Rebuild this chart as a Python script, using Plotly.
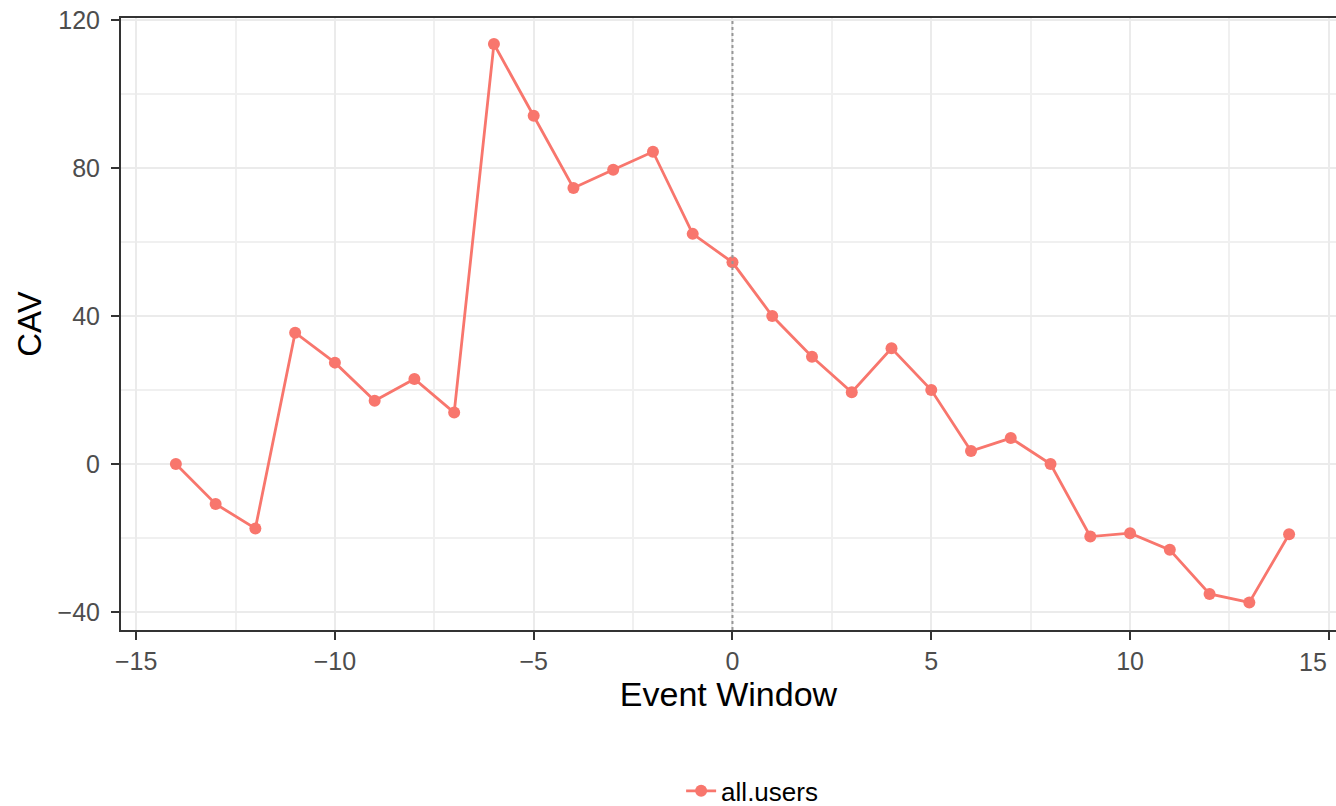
import plotly.graph_objects as go

# ---- data ----
event_window = [-14, -13, -12, -11, -10, -9, -8, -7, -6, -5, -4, -3, -2, -1,
                0, 1, 2, 3, 4, 5, 6, 7, 8, 9, 10, 11, 12, 13, 14]
cav_all_users = [0.0, -10.8, -17.4, 35.5, 27.4, 17.1, 23.0, 13.9, 113.5, 94.1,
                 74.6, 79.5, 84.4, 62.2, 54.5, 40.0, 29.0, 19.4, 31.3, 20.0,
                 3.5, 7.0, 0.0, -19.6, -18.7, -23.2, -35.1, -37.4, -19.0]
series_name = "all.users"
event_day = 0
x_tick_vals = [-15, -10, -5, 0, 5, 10, 15]
x_tick_text = ["\u221215", "\u221210", "\u22125", "0", "5", "10", "15"]
y_tick_vals = [-40, 0, 40, 80, 120]
y_tick_text = ["\u221240", "0", "40", "80", "120"]

LINE_COLOR = "#F8766D"
GRID = "#EBEBEB"
BORDER = "#333333"
TICK_TXT = "#4D4D4D"
FONT = "Liberation Sans, Arial, sans-serif"

fig = go.Figure()
fig.add_trace(go.Scatter(
    x=event_window, y=cav_all_users, mode="lines+markers", name=series_name,
    line=dict(color=LINE_COLOR, width=2.8),
    marker=dict(color=LINE_COLOR, size=12),
    showlegend=True,
))

fig.add_vline(x=event_day, line=dict(color="rgb(150,150,150)", width=2, dash="dot"),
              layer="above")

# the last x tick label sits at the right edge: draw it right-aligned to its tick
shown_tick_text = x_tick_text[:-1] + [""]
fig.add_annotation(x=x_tick_vals[-1], xref="x", y=0, yref="paper",
                   text=x_tick_text[-1], showarrow=False, xanchor="right", yanchor="top",
                   yshift=-16, font=dict(size=25, color=TICK_TXT, family=FONT))

fig.update_layout(
    width=1336, height=806,
    margin=dict(l=121, r=0, t=18, b=176, autoexpand=False),
    plot_bgcolor="white", paper_bgcolor="white",
    font=dict(family=FONT, color="black"),
    showlegend=True,
    legend=dict(orientation="h", x=0.461, xanchor="left", y=-0.263, yanchor="middle",
                font=dict(size=26, color="black", family=FONT), bgcolor="rgba(0,0,0,0)"),
)

fig.update_xaxes(
    range=[-15.38, 15.18], tickmode="array", tickvals=x_tick_vals,
    ticktext=shown_tick_text,
    automargin=False, ticklabeloverflow="allow",
    showgrid=True, gridcolor=GRID, gridwidth=1.8,
    minor=dict(dtick=2.5, tick0=0, showgrid=True, gridcolor="#F0F0F0", gridwidth=1.5),
    zeroline=False,
    showline=True, linecolor=BORDER, linewidth=2, mirror=True,
    ticks="outside", ticklen=8, tickwidth=2, tickcolor=BORDER,
    tickfont=dict(size=25, color=TICK_TXT, family=FONT),
    title=dict(text="Event Window", font=dict(size=34, color="black", family=FONT), standoff=5),
)

fig.update_yaxes(
    range=[-44.86, 120.54], tickmode="array", tickvals=y_tick_vals,
    ticktext=y_tick_text,
    automargin=False, ticklabeloverflow="allow",
    showgrid=True, gridcolor=GRID, gridwidth=1.8,
    minor=dict(dtick=20, tick0=0, showgrid=True, gridcolor="#F0F0F0", gridwidth=1.5),
    zeroline=False,
    showline=True, linecolor=BORDER, linewidth=2, mirror=False,
    ticks="outside", ticklen=8, tickwidth=2, tickcolor=BORDER,
    ticklabelstandoff=6,
    tickfont=dict(size=25, color=TICK_TXT, family=FONT),
    title=dict(text="CAV", font=dict(size=33, color="black", family=FONT), standoff=6),
)

fig.write_html("out.html", config={"displayModeBar": False},
               post_script="document.body.style.margin='0';document.body.style.overflow='hidden';")
